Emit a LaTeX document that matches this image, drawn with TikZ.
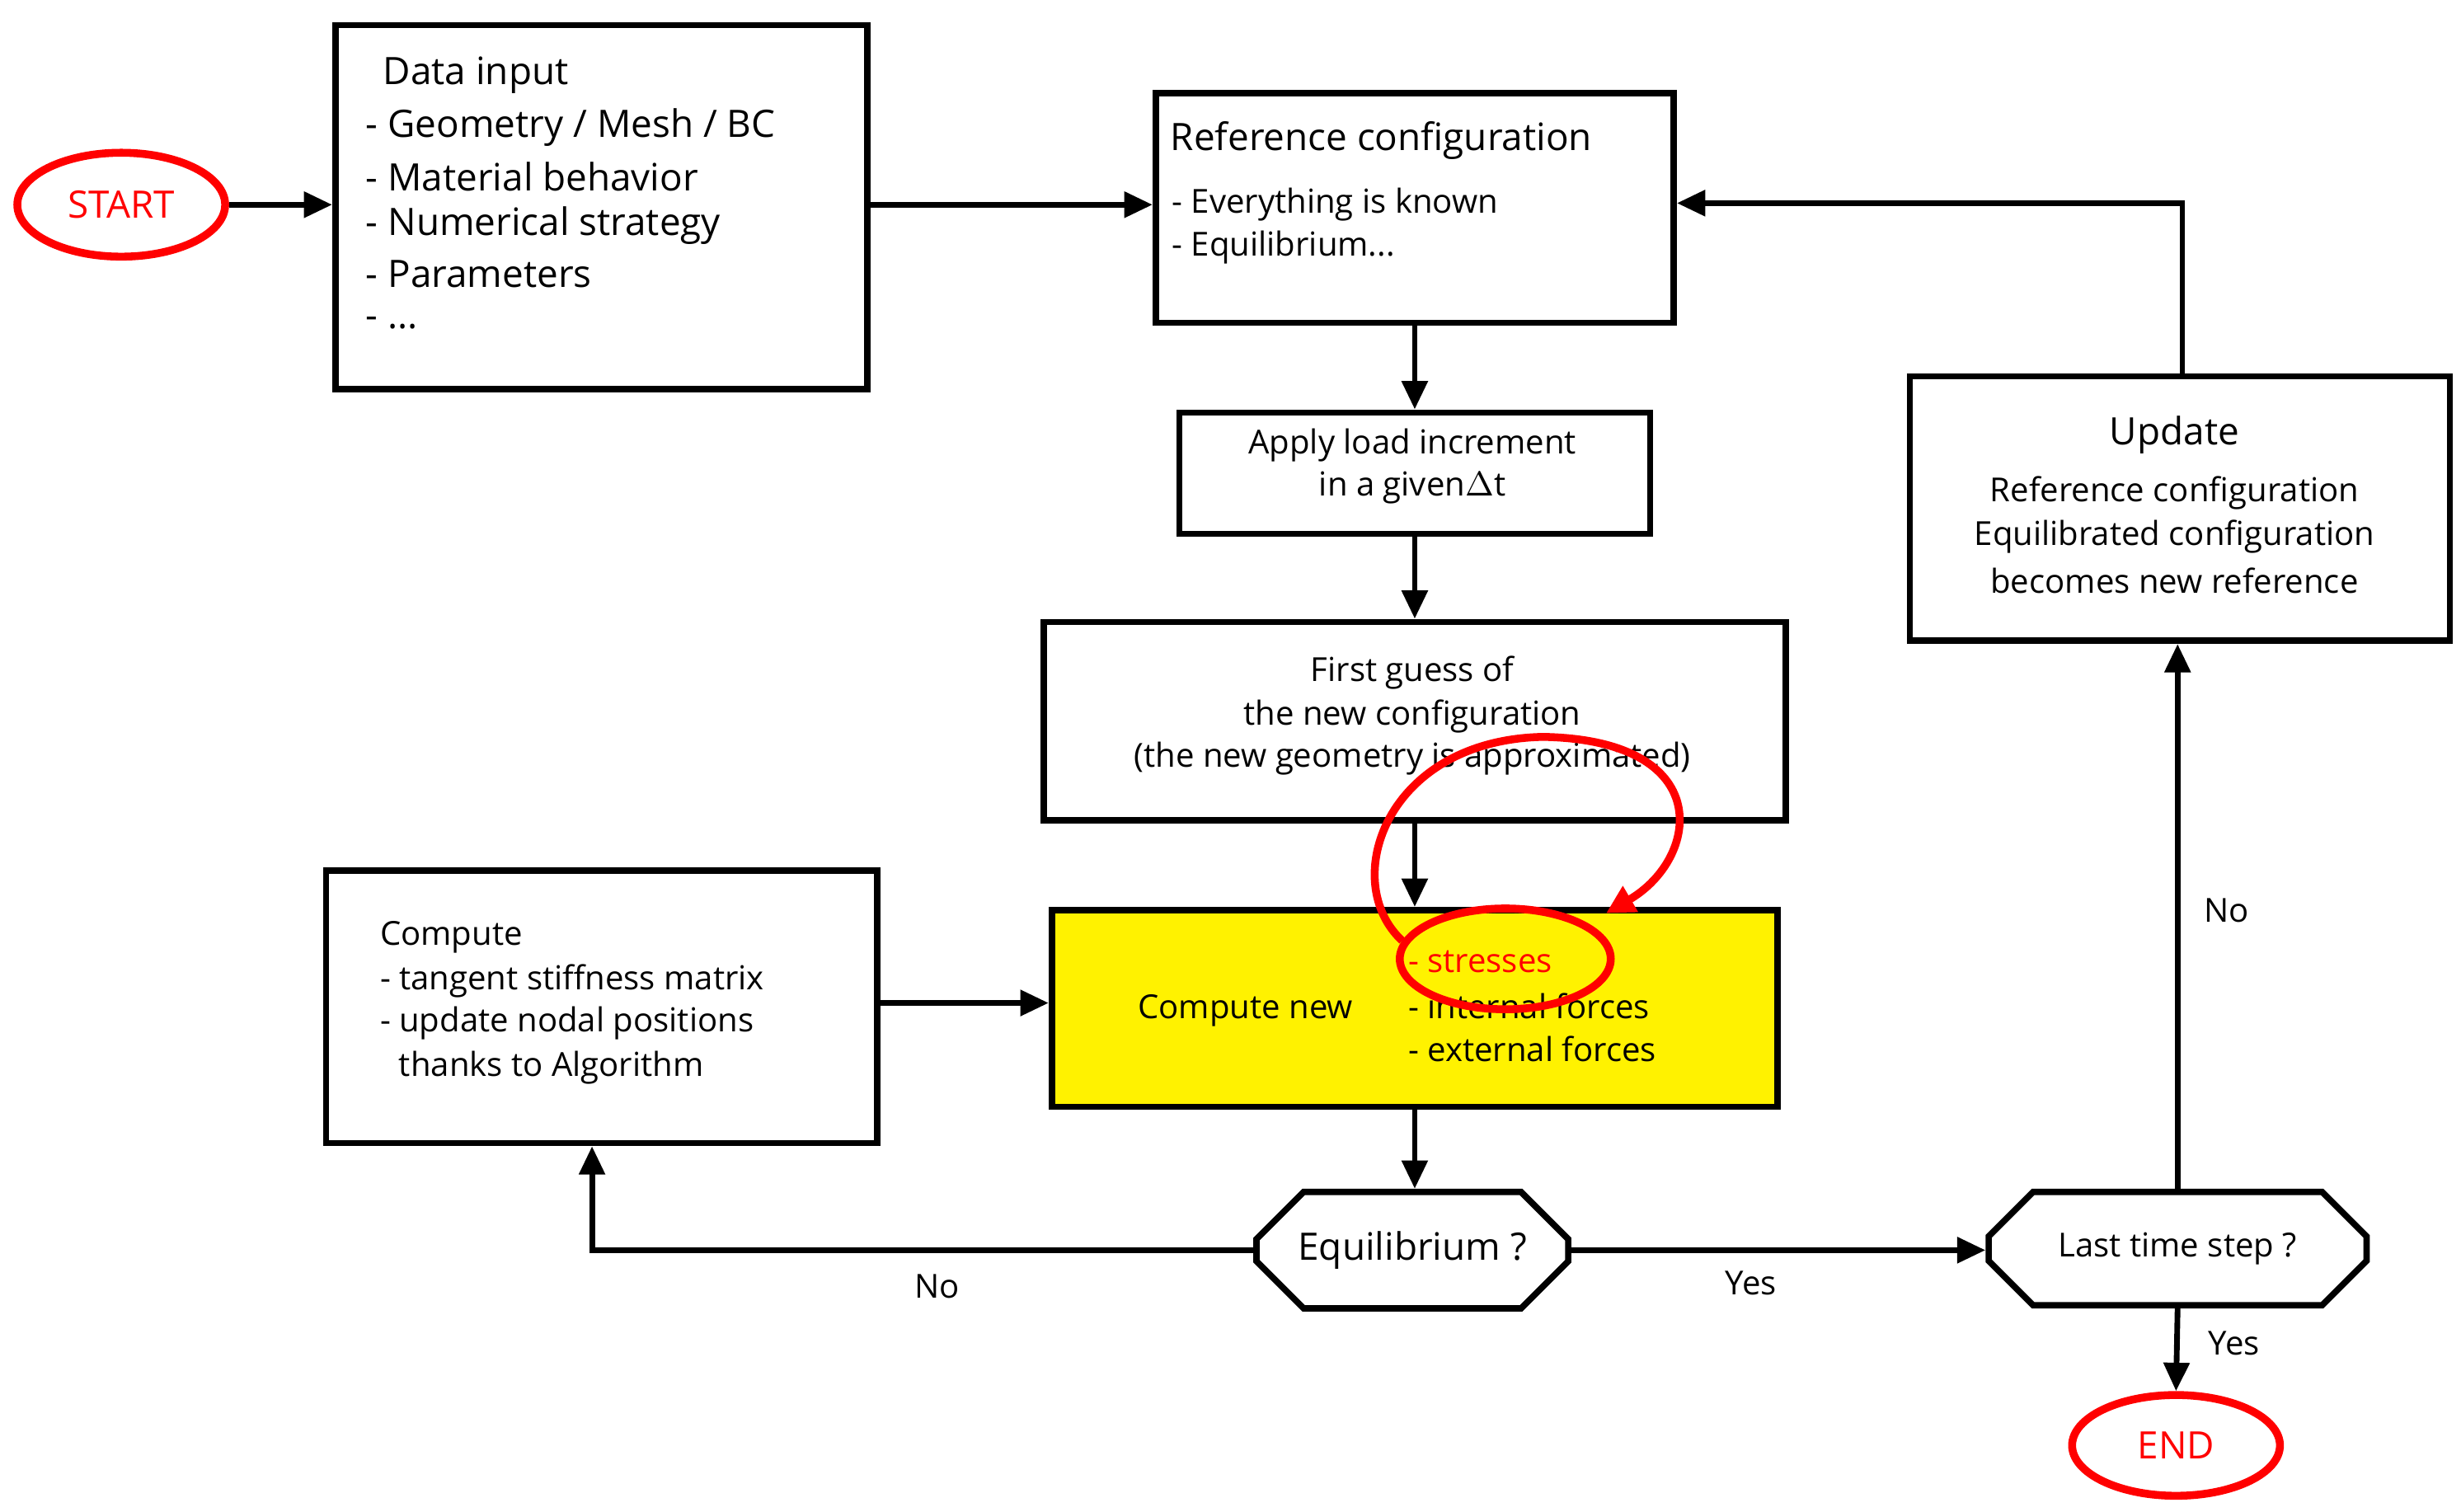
\documentclass[tikz,border=0pt]{standalone}
\usepackage{fontspec}
\setmainfont{Open Sans}
\usetikzlibrary{shapes.geometric,shapes.misc,arrows.meta}
\begin{document}
\begin{tikzpicture}[x=0.5pt,y=-0.5pt,
  box/.style={draw,line width=2pt,rectangle,anchor=north west,inner sep=0},
  oct/.style={draw,line width=2pt,chamfered rectangle,chamfered rectangle xsep=9pt,chamfered rectangle ysep=9pt,inner sep=0},
  term/.style={draw=red,line width=2.5pt,ellipse,text=red,font=\fontsize{12}{14}\selectfont,inner sep=0},
  arr/.style={line width=1.8pt,-{Triangle[length=9pt,width=8pt]}},
  big/.style={font=\fontsize{12}{14}\selectfont},
  med/.style={font=\fontsize{10.5}{14}\selectfont},
  txt/.style={inner sep=0}]
\useasboundingbox (0,0) rectangle (1563,960);
% shapes
\node[term,minimum width=66pt,minimum height=33pt] (start) at (77,130) {START};
\node[box,minimum width=169pt,minimum height=115.5pt] (data) at (211,14) {};
\node[box,minimum width=164.5pt,minimum height=73pt] (ref) at (732,57) {};
\node[box,minimum width=149.5pt,minimum height=38.5pt] (apply) at (747,260) {};
\node[box,minimum width=235.5pt,minimum height=63pt] (guess) at (661,393) {};
\node[box,fill=yellow,minimum width=230.5pt,minimum height=62.5pt] (comp) at (666,576) {};
\node[box,minimum width=175pt,minimum height=86.5pt] (left) at (205,551) {};
\node[oct,minimum width=99pt,minimum height=37pt,big] (eq) at (897,794) {Equilibrium ?};
\node[oct,minimum width=120pt,minimum height=36pt,med] (last) at (1383,793) {Last time step ?};
\node[box,minimum width=171.5pt,minimum height=84pt] (upd) at (1211,237) {};
\node[term,minimum width=66pt,minimum height=32pt] (end) at (1382,918) {END};
% texts
\node[txt,big,anchor=west] (t1) at (243,48) {Data input};
\node[txt,big,anchor=west] (t2) at (232,81) {- Geometry / Mesh / BC};
\node[txt,big,anchor=west] (t3) at (232,112) {- Material behavior};
\node[txt,big,anchor=west] (t4) at (232,143) {- Numerical strategy};
\node[txt,big,anchor=west] (t5) at (232,174) {- Parameters};
\node[txt,big,anchor=west] (t6) at (232,205) {- ...};
\node[txt,big,anchor=west] (r1) at (743,89) {Reference configuration};
\node[txt,med,anchor=west] (r2) at (744,130) {- Everything is known};
\node[txt,med,anchor=west] (r3) at (744,157) {- Equilibrium...};
\node[txt,med] (a1) at (897,283) {Apply load increment};
\node[txt,med] (a2) at (897,310) {in a given$\Delta$t};
\node[txt,med] (g1) at (897,427) {First guess of};
\node[txt,med] (g2) at (897,455) {the new configuration};
\node[txt,med] (g3) at (897,482) {(the new geometry is approximated)};
\node[txt,med] (c0) at (791,642) {Compute new};
\node[txt,med,anchor=west,text=red] (c1) at (894,611) {- stresses};
\node[txt,med,anchor=west] (c2) at (894,639) {- internal forces};
\node[txt,med,anchor=west] (c3) at (894,666) {- external forces};
\node[txt,med,anchor=west] (l1) at (241,595) {Compute};
\node[txt,med,anchor=west] (l2) at (241,623) {- tangent stiffness matrix};
\node[txt,med,anchor=west] (l3) at (241,650) {- update nodal positions};
\node[txt,med,anchor=west] (l4) at (253,678) {thanks to Algorithm};
\node[txt,big] (u1) at (1381,276) {Update};
\node[txt,med] (u2) at (1381,313) {Reference configuration};
\node[txt,med] (u3) at (1381,341) {Equilibrated configuration};
\node[txt,med] (u4) at (1381,369) {becomes new reference};
% connectors
\draw[arr] (start) -- (start -| data.west);
\draw[arr] (data.east |- 0,130) -- (ref.west |- 0,130);
\draw[arr] (ref.south -| apply.north) -- (apply.north);
\draw[arr] (apply.south) -- (apply.south |- guess.north);
\draw[arr] (guess.south -| comp.north) -- (comp.north);
\draw[arr] (comp.south) -- (comp.south |- eq.north);
\draw[arr] (left.east |- 0,637) -- (comp.west |- 0,637);
\coordinate (nc) at (376,794);
\draw[arr] (eq.west) -- (nc) -- (nc |- left.south);
\draw[arr] (eq.east) -- (last.west |- eq.east);
\draw[arr] (last.south) -- (end.north);
\draw[arr] (last.north) -- (last.north |- upd.south);
\coordinate (uc) at (1386,129);
\draw[arr] (uc |- upd.north) -- (uc) -- (ref.east |- uc);
\node[txt,med] (no1) at (595,817) {No};
\node[txt,med] (yes1) at (1112,815) {Yes};
\node[txt,med] (yes2) at (1419,853) {Yes};
\node[txt,med] (no2) at (1414,578) {No};
% red annotation
\node[draw=red,line width=2.5pt,ellipse,minimum width=67pt,minimum height=32pt] (ring) at (956,609) {};
\draw[red,line width=2.5pt,-{Triangle[length=9pt,width=9pt]}] (ring.170) .. controls (850,560) and (880,470) .. (980,468) .. controls (1090,470) and (1080,545) .. (1020,580);
\end{tikzpicture}
\end{document}
